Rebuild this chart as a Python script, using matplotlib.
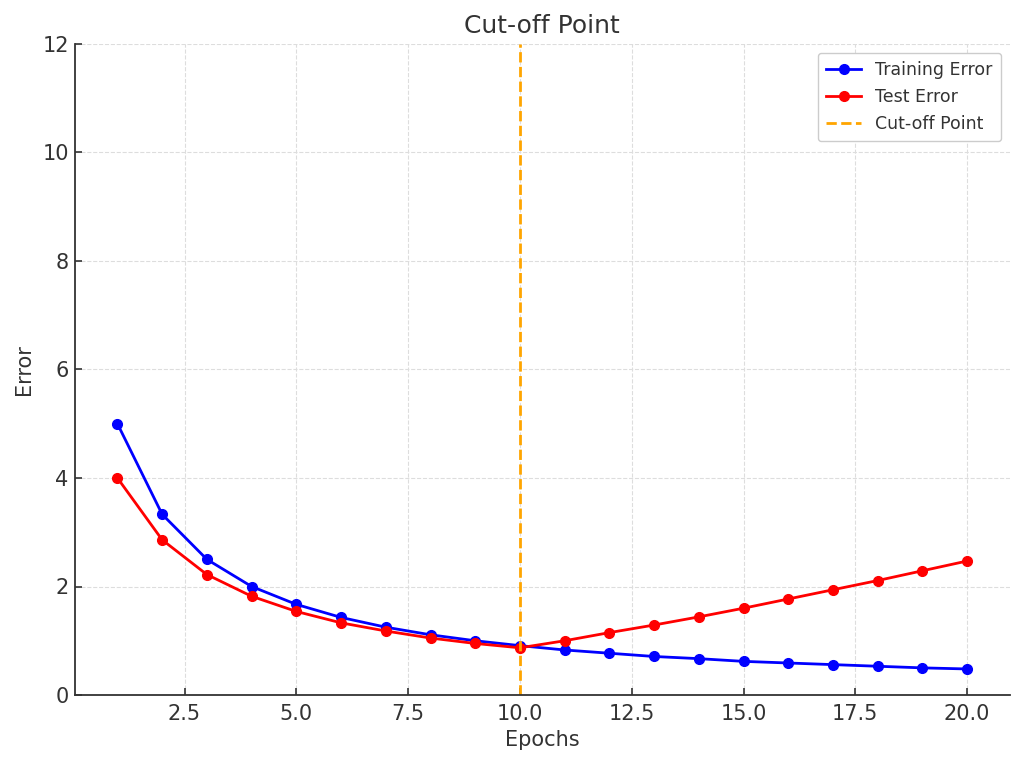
import matplotlib.pyplot as plt

# values
epochs = list(range(1, 21))
training_error = [5.00, 3.33, 2.50, 2.00, 1.67, 1.43, 1.25, 1.11, 1.00, 0.91,
                  0.83, 0.77, 0.71, 0.67, 0.62, 0.59, 0.56, 0.53, 0.50, 0.48]
test_error = [4.00, 2.86, 2.22, 1.82, 1.54, 1.33, 1.18, 1.05, 0.95, 0.87,
              1.00, 1.15, 1.29, 1.44, 1.60, 1.77, 1.94, 2.11, 2.29, 2.47]
cutoff_epoch = 10

text_color = '#333333'
plt.rcParams['font.family'] = ['DejaVu Sans']
plt.rcParams['text.color'] = text_color
plt.rcParams['axes.labelcolor'] = text_color
plt.rcParams['xtick.color'] = text_color
plt.rcParams['ytick.color'] = text_color

fig = plt.figure(figsize=(10.24, 7.65), dpi=100)
ax = fig.add_axes([0.0732, 0.0915, 0.9128, 0.851])

ax.plot(epochs, training_error, color='blue', marker='o', markersize=7,
        linewidth=2, label='Training Error')
ax.plot(epochs, test_error, color='red', marker='o', markersize=7,
        linewidth=2, label='Test Error')
ax.axvline(cutoff_epoch, color='orange', linestyle='--', linewidth=2,
           label='Cut-off Point')

ax.set_ylim(0, 12)
ax.set_title('Cut-off Point', fontsize=18, pad=8)
ax.set_xlabel('Epochs', fontsize=15, labelpad=4)
ax.set_ylabel('Error', fontsize=15, labelpad=6)
ax.tick_params(direction='in', labelsize=15, length=5, width=1.2)
ax.tick_params(axis='x', pad=6.5)
ax.tick_params(axis='y', pad=4.5)

ax.grid(True, linestyle='--', color='#dddddd', linewidth=0.8)
ax.set_axisbelow(True)
for side in ('top', 'right'):
    ax.spines[side].set_visible(False)
for side in ('left', 'bottom'):
    ax.spines[side].set_color(text_color)
    ax.spines[side].set_linewidth(1.3)

leg = ax.legend(loc='upper right', fontsize=12.5, framealpha=1,
                edgecolor='#cccccc', borderpad=0.5)

fig.savefig('out.png', dpi=100)
